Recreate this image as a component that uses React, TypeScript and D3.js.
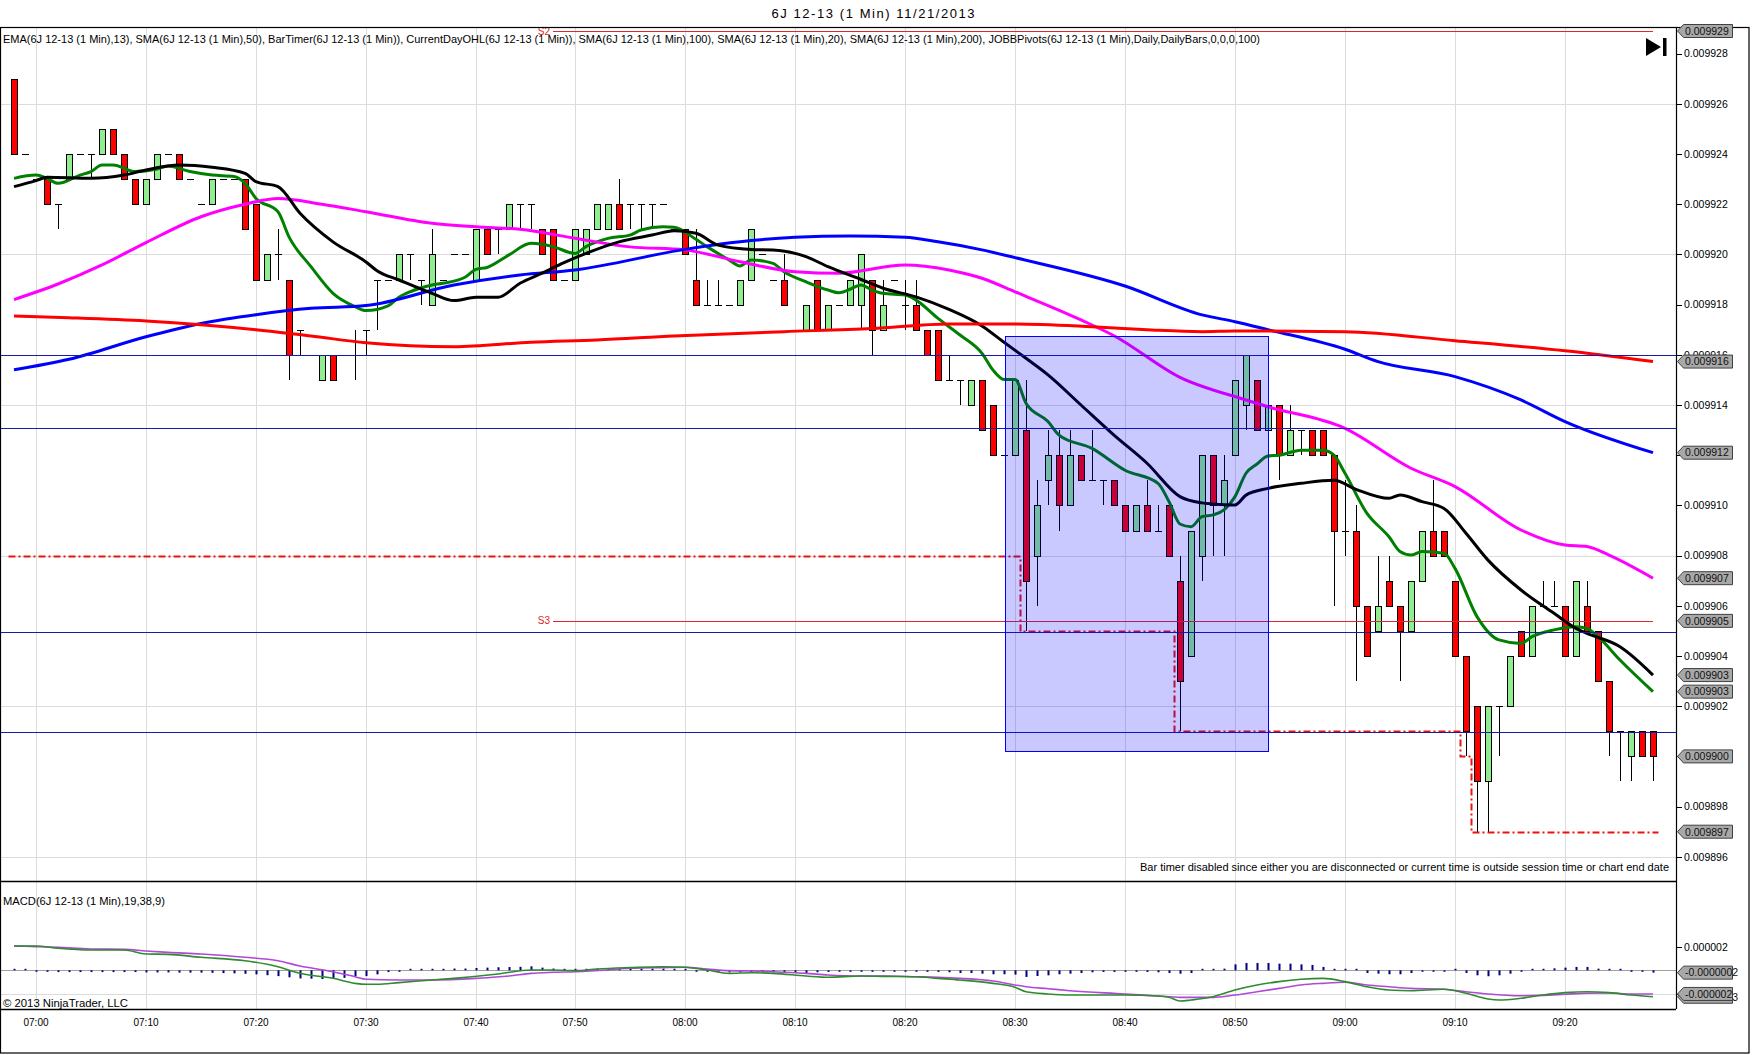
import React from "react";
import * as d3 from "d3";

// ---------- DATA (prices in ticks of 0.000001) ----------
const opens = [
  9927, 9924, 9923, 9923, 9922, 9923, 9924, 9924, 9924, 9925,
  9924, 9923, 9922, 9923, 9924, 9924, 9923, 9922, 9922, 9923,
  9923, 9923, 9922, 9919, 9920, 9919, 9917, 9916, 9915, 9916,
  9916, 9916, 9917, 9919, 9919, 9919, 9920, 9919, 9918, 9919,
  9920, 9920, 9919, 9921, 9921, 9921, 9922, 9922, 9921, 9921,
  9919, 9919, 9920, 9921, 9921, 9922, 9922, 9922, 9922, 9922,
  9921, 9921, 9919, 9918, 9918, 9918, 9918, 9919, 9920, 9919,
  9919, 9917, 9917, 9919, 9917, 9918, 9918, 9918, 9919, 9917,
  9919, 9918, 9918, 9917, 9917, 9915, 9915, 9914, 9915, 9914,
  9912, 9912, 9913, 9908, 9911, 9912, 9910, 9912, 9911, 9911,
  9911, 9910, 9909, 9910, 9909, 9910, 9907, 9904, 9908, 9912,
  9910, 9912, 9914, 9915, 9913, 9914, 9912, 9913, 9913, 9913,
  9912, 9909, 9909, 9906, 9905, 9907, 9906, 9905, 9907, 9909,
  9909, 9907, 9904, 9902, 9899, 9902, 9902, 9905, 9904, 9906,
  9906, 9906, 9904, 9906, 9905, 9903, 9901, 9900, 9901, 9901,
];
const highs = [
  9927, 9924, 9923, 9923, 9922, 9924, 9924, 9924, 9925, 9925,
  9924, 9923, 9923, 9924, 9924, 9924, 9923, 9922, 9923, 9923,
  9923, 9923, 9922, 9920, 9921, 9919, 9917, 9916, 9916, 9916,
  9916, 9917, 9917, 9919, 9919, 9920, 9920, 9919, 9921, 9919,
  9920, 9920, 9921, 9921, 9921, 9922, 9922, 9922, 9921, 9921,
  9919, 9921, 9921, 9922, 9922, 9923, 9922, 9922, 9922, 9922,
  9921, 9921, 9921, 9919, 9919, 9918, 9919, 9921, 9920, 9919,
  9920, 9917, 9918, 9919, 9918, 9918, 9919, 9920, 9919, 9919,
  9919, 9919, 9919, 9917, 9917, 9916, 9915, 9915, 9915, 9914,
  9912, 9915, 9915, 9911, 9913, 9913, 9913, 9912, 9913, 9911,
  9911, 9910, 9910, 9911, 9910, 9910, 9908, 9909, 9912, 9912,
  9912, 9915, 9916, 9915, 9914, 9914, 9914, 9913, 9913, 9913,
  9912, 9911, 9910, 9906, 9908, 9908, 9906, 9907, 9909, 9911,
  9909, 9907, 9904, 9902, 9902, 9902, 9904, 9905, 9906, 9907,
  9907, 9906, 9907, 9907, 9905, 9903, 9901, 9901, 9901, 9901,
];
const lows = [
  9924, 9924, 9923, 9922, 9921, 9923, 9924, 9923, 9924, 9924,
  9923, 9922, 9922, 9923, 9924, 9923, 9923, 9922, 9922, 9923,
  9923, 9921, 9919, 9919, 9919, 9915, 9916, 9916, 9915, 9915,
  9916, 9915, 9916, 9917, 9919, 9919, 9919, 9918, 9918, 9919,
  9920, 9920, 9919, 9920, 9920, 9921, 9921, 9921, 9920, 9919,
  9919, 9919, 9920, 9921, 9921, 9921, 9921, 9921, 9921, 9922,
  9921, 9920, 9918, 9918, 9918, 9918, 9918, 9919, 9920, 9919,
  9918, 9917, 9917, 9917, 9917, 9918, 9918, 9917, 9916, 9917,
  9919, 9917, 9917, 9916, 9915, 9915, 9914, 9914, 9913, 9912,
  9912, 9912, 9905, 9906, 9910, 9909, 9910, 9911, 9911, 9910,
  9910, 9909, 9909, 9909, 9909, 9908, 9901, 9904, 9907, 9908,
  9908, 9912, 9913, 9913, 9913, 9911, 9912, 9912, 9912, 9912,
  9906, 9908, 9903, 9904, 9905, 9906, 9903, 9905, 9907, 9908,
  9908, 9904, 9900, 9897, 9897, 9900, 9902, 9904, 9904, 9906,
  9906, 9904, 9904, 9905, 9903, 9900, 9899, 9899, 9900, 9899,
];
const closes = [
  9924, 9924, 9923, 9922, 9922, 9924, 9924, 9924, 9925, 9924,
  9923, 9922, 9923, 9924, 9924, 9923, 9923, 9922, 9923, 9923,
  9923, 9921, 9919, 9920, 9920, 9916, 9917, 9916, 9916, 9915,
  9916, 9916, 9917, 9919, 9919, 9920, 9920, 9919, 9920, 9919,
  9920, 9920, 9921, 9920, 9921, 9922, 9922, 9922, 9920, 9919,
  9919, 9921, 9921, 9922, 9922, 9921, 9922, 9922, 9922, 9922,
  9921, 9920, 9918, 9918, 9918, 9918, 9919, 9921, 9920, 9919,
  9918, 9917, 9918, 9917, 9918, 9918, 9919, 9920, 9917, 9918,
  9919, 9918, 9917, 9916, 9915, 9915, 9915, 9915, 9913, 9912,
  9912, 9915, 9907, 9910, 9912, 9910, 9912, 9911, 9911, 9911,
  9910, 9909, 9910, 9909, 9909, 9908, 9903, 9909, 9912, 9910,
  9911, 9915, 9916, 9913, 9914, 9912, 9913, 9913, 9912, 9912,
  9909, 9909, 9906, 9904, 9906, 9906, 9905, 9907, 9909, 9908,
  9908, 9904, 9901, 9899, 9902, 9902, 9904, 9904, 9906, 9906,
  9906, 9904, 9907, 9905, 9903, 9901, 9901, 9901, 9900, 9900,
];

const timeLabels = ["07:00", "07:10", "07:20", "07:30", "07:40", "07:50", "08:00", "08:10", "08:20", "08:30", "08:40", "08:50", "09:00", "09:10", "09:20"];
const timeLabelBars = [2, 12, 22, 32, 42, 51, 61, 71, 81, 91, 101, 111, 121, 131, 141];

// EMA(13) – green
const emaBars = [0, 2, 3, 4, 6, 7, 8, 9, 11, 13, 14, 16, 18, 20, 21, 22, 24, 25, 27, 29, 31, 32, 34, 35, 36, 38, 39, 41, 42, 43, 45, 47, 49, 51, 52, 54, 56, 57, 59, 60, 62, 63, 65, 66, 67, 69, 70, 72, 74, 75, 76, 77, 78, 79, 81, 82, 84, 86, 88, 89, 90, 91, 92, 94, 95, 98, 101, 104, 105, 106, 107, 108, 109, 110, 111, 112, 113, 114, 115, 117, 119, 120, 121, 123, 125, 126, 127, 128, 130, 131, 133, 135, 137, 138, 140, 142, 143, 144, 146, 149];
const emaVals = [9923.03, 9923.16, 9923.03, 9922.83, 9923.16, 9923.3, 9923.56, 9923.56, 9923.3, 9923.4, 9923.52, 9923.3, 9923.16, 9923.1, 9922.83, 9922.23, 9921.7, 9920.7, 9919.51, 9918.45, 9917.92, 9917.76, 9917.95, 9918.29, 9918.51, 9918.78, 9918.85, 9919.09, 9919.4, 9919.48, 9919.98, 9920.44, 9920.31, 9920.04, 9920.31, 9920.64, 9920.77, 9920.97, 9921.1, 9921.08, 9920.6, 9920.31, 9919.78, 9919.54, 9919.78, 9919.64, 9919.31, 9918.91, 9918.58, 9918.47, 9918.61, 9918.78, 9918.58, 9918.45, 9918.38, 9918.18, 9917.45, 9916.79, 9916.06, 9915.39, 9915.02, 9915.02, 9914.07, 9913.34, 9912.8, 9912.27, 9911.4, 9910.88, 9910.15, 9909.26, 9909.15, 9909.55, 9909.62, 9909.82, 9910.35, 9911.28, 9911.65, 9911.97, 9912.0, 9912.2, 9912.2, 9912.0, 9911.28, 9909.68, 9908.75, 9908.16, 9908.02, 9908.16, 9908.09, 9907.49, 9905.57, 9904.64, 9904.5, 9904.77, 9905.04, 9905.17, 9905.1, 9904.77, 9903.84, 9902.58];

// SMA(20) – black
const sma20Bars = [0, 2, 3, 7, 10, 12, 15, 18, 21, 22, 24, 26, 29, 32, 33, 35, 38, 40, 42, 44, 46, 48, 50, 52, 55, 58, 60, 62, 64, 67, 69, 72, 74, 77, 79, 82, 85, 88, 90, 92, 94, 97, 100, 103, 106, 108, 109, 111, 112, 114, 117, 120, 122, 125, 126, 128, 130, 132, 134, 137, 140, 142, 143, 146, 149];
const sma20Vals = [9922.7, 9922.94, 9923.07, 9923.03, 9923.16, 9923.36, 9923.56, 9923.47, 9923.23, 9922.9, 9922.7, 9921.64, 9920.5, 9919.7, 9919.35, 9918.98, 9918.45, 9918.16, 9918.29, 9918.29, 9918.85, 9919.25, 9919.67, 9920.04, 9920.5, 9920.77, 9920.94, 9920.84, 9920.37, 9920.2, 9920.18, 9919.91, 9919.51, 9919.0, 9918.65, 9918.31, 9917.81, 9917.15, 9916.5, 9915.86, 9915.2, 9914.0, 9912.8, 9911.68, 9910.35, 9910.1, 9910.06, 9910.02, 9910.41, 9910.68, 9910.88, 9911.0, 9910.64, 9910.28, 9910.41, 9910.15, 9909.88, 9908.89, 9907.82, 9906.63, 9905.7, 9905.1, 9904.9, 9904.37, 9903.24];

// SMA(50) – magenta
const sma50Bars = [0, 4, 8, 12, 17, 21, 24, 28, 32, 38, 42, 46, 51, 56, 61, 66, 71, 75, 81, 85, 88, 91, 97, 100, 106, 112, 114, 121, 127, 131, 137, 141, 143, 145, 149];
const sma50Vals = [9918.2, 9918.82, 9919.58, 9920.47, 9921.5, 9922.0, 9922.23, 9922.0, 9921.7, 9921.24, 9921.1, 9921.0, 9920.64, 9920.3, 9920.18, 9919.71, 9919.31, 9919.25, 9919.58, 9919.38, 9919.05, 9918.51, 9917.39, 9916.76, 9915.1, 9914.2, 9913.93, 9913.07, 9911.48, 9910.75, 9909.02, 9908.42, 9908.36, 9908.02, 9907.1];

// SMA(100) – blue
const sma100Bars = [0, 5, 12, 17, 22, 27, 32, 40, 46, 51, 61, 67, 71, 76, 81, 84, 88, 91, 101, 108, 111, 114, 121, 124, 131, 137, 141, 149];
const sma100Vals = [9915.4, 9915.82, 9916.72, 9917.25, 9917.6, 9917.85, 9917.96, 9918.78, 9919.18, 9919.38, 9920.2, 9920.55, 9920.68, 9920.73, 9920.68, 9920.5, 9920.18, 9919.87, 9918.74, 9917.59, 9917.32, 9917.0, 9916.22, 9915.73, 9915.13, 9914.2, 9913.34, 9912.1];

// SMA(200) – red
const sma200Bars = [0, 5, 12, 17, 22, 27, 32, 40, 47, 53, 60, 70, 78, 85, 91, 98, 103, 108, 111, 121, 131, 141, 149];
const sma200Vals = [9917.55, 9917.48, 9917.35, 9917.2, 9917.0, 9916.75, 9916.48, 9916.32, 9916.5, 9916.59, 9916.75, 9916.92, 9917.05, 9917.23, 9917.23, 9917.12, 9917.0, 9916.92, 9916.95, 9916.92, 9916.56, 9916.16, 9915.73];

// Horizontal drawn lines (navy)
const drawnLevels = [9916.0, 9913.07, 9904.95, 9900.96];

// JOBB pivots
const pivotNames = ["S2", "S3"];
const pivotVals = [9928.9, 9905.4];
const pivotFromBar = 49;

// Current day low (step)
const dayLowBars = [-0.5, 91.5, 105.5, 131.5, 132.5, 149.5];
const dayLowVals = [9908, 9905, 9901, 9900, 9897, 9897];

// Highlight rectangle
const boxBars = [90.1, 114.0];
const boxPrices = [9916.76, 9900.23];

// MACD (units of 0.0000001)
const macdBars = [0, 2, 4, 7, 10, 12, 14, 17, 21, 24, 26, 29, 31, 32, 33, 35, 38, 40, 44, 47, 49, 51, 53, 56, 59, 61, 63, 65, 67, 69, 72, 74, 77, 79, 82, 84, 86, 89, 91, 92, 94, 96, 101, 104, 105, 106, 107, 109, 111, 113, 115, 117, 119, 121, 123, 125, 127, 130, 132, 134, 135, 137, 139, 141, 143, 145, 147, 149];
const macdVals = [20.9, 20.9, 18.9, 17.4, 17.4, 14.0, 13.7, 11.2, 8.2, 3.1, -2.6, -6.9, -11.2, -12.0, -12.0, -10.6, -8.3, -6.9, -3.2, 0.3, 0.3, -0.3, 1.1, 2.3, 3.1, 2.6, 0.3, -2.6, -2.1, -2.6, -4.9, -6.0, -4.9, -5.2, -5.5, -6.9, -8.3, -11.2, -14.6, -18.4, -20.3, -21.2, -21.2, -22.1, -23.2, -26.4, -25.5, -22.7, -16.9, -12.6, -9.7, -7.7, -6.9, -9.7, -14.1, -16.9, -17.5, -16.3, -19.7, -24.6, -25.5, -24.0, -21.2, -19.2, -18.4, -19.2, -21.2, -22.7];
const signalBars = [0, 2, 4, 7, 10, 12, 14, 17, 21, 24, 26, 29, 31, 32, 35, 38, 42, 45, 47, 49, 51, 54, 56, 59, 61, 63, 65, 67, 69, 72, 74, 77, 79, 82, 84, 86, 89, 91, 92, 94, 96, 101, 104, 106, 109, 111, 113, 115, 117, 119, 121, 123, 125, 127, 130, 132, 134, 137, 139, 141, 143, 145, 147, 149];
const signalVals = [20.9, 20.3, 19.7, 18.3, 18.0, 16.6, 15.4, 14.0, 11.2, 8.2, 3.7, -1.2, -5.5, -7.7, -8.3, -8.3, -6.9, -4.9, -2.6, -1.7, -1.2, 0.3, 1.7, 2.3, 2.6, 1.1, -0.3, -0.6, -1.2, -2.6, -4.0, -4.9, -4.9, -5.5, -6.0, -6.9, -9.2, -12.6, -14.1, -15.8, -17.5, -20.3, -22.1, -23.2, -23.2, -21.2, -18.4, -15.5, -12.6, -11.2, -10.3, -12.6, -14.1, -15.5, -16.3, -18.4, -20.3, -21.8, -21.5, -20.6, -19.7, -19.5, -20.3, -20.3];
const histVals = [
  0, 0, -0.5, -1, -1.5, -1.5, -1.5, -1.5, -1.5, -1.5,
  -1.5, -1.5, -1.8, -1.8, -1.8, -2, -2, -2, -2.2, -2.4,
  -2.6, -3, -3.5, -4.2, -5, -6, -7, -7.2, -7.5, -7.2,
  -6.5, -5.2, -5, -3.5, -1.5, -0.5, 0, 0, 0.5, 1,
  1.5, 1.5, 2, 2.3, 2.6, 2.8, 3, 3.4, 2.3, 1.5,
  0.8, 0.5, 0.8, 0.8, 1.4, 1.4, 1.4, 1.4, 1.4, 1.4,
  0.8, 0.5, -0.5, -0.8, -1.4, -1.7, -1.7, -1.7, -1.7, -1.7,
  -1.7, -1.7, -2.3, -1.7, -1.4, -1.1, -0.8, -0.6, -0.6, -0.5,
  -0.5, -0.5, -0.6, -1.1, -1.4, -1.7, -2.3, -2.3, -2.9, -3.4,
  -3.4, -3.7, -5.7, -4.9, -4.3, -3.4, -2.9, -2.3, -1.7, -1.4,
  -1.4, -1.1, -1.1, -1.4, -1.7, -2.3, -2.9, -2.3, 0, 0.9,
  1.4, 5.1, 6.3, 6.3, 6.3, 5.7, 5.7, 5.1, 4.6, 2.9,
  0.9, 0.3, 0, -2.3, -2.9, -3.4, -3.4, -2.3, -0.9, -0.6,
  -0.3, 0, -2.3, -4.3, -5.1, -4.3, -2.9, -0.9, 0.6, 1.1,
  1.7, 2.3, 2.9, 2.9, 1.4, 0, 0, -0.6, -0.9, -2,
];

const titleText = "6J 12-13 (1 Min)  11/21/2013";
const legendText = "EMA(6J 12-13 (1 Min),13), SMA(6J 12-13 (1 Min),50), BarTimer(6J 12-13 (1 Min)), CurrentDayOHL(6J 12-13 (1 Min)), SMA(6J 12-13 (1 Min),100), SMA(6J 12-13 (1 Min),20), SMA(6J 12-13 (1 Min),200), JOBBPivots(6J 12-13 (1 Min),Daily,DailyBars,0,0,0,100)";
const macdTitle = "MACD(6J 12-13 (1 Min),19,38,9)";
const barTimerText = "Bar timer disabled since either you are disconnected or current time is outside session time or chart end date";
const copyrightText = "\u00A9 2013 NinjaTrader, LLC";

// ---------- LAYOUT ----------
const W = 1752, H = 1055;
const AXIS_X = 1676;
const MAIN_TOP = 27, MAIN_BOTTOM = 881, MACD_BOTTOM = 1009;
const FRAME_RIGHT = 1749, FRAME_BOTTOM = 1053;
const FONT = "'Liberation Sans', Arial, sans-serif";

const fmtPrice = (u: number) => (u / 1e6).toFixed(6);

function ValueBox({ y, text }: { y: number; text: string }) {
  const x0 = AXIS_X + 1.5;
  const h = 6.5;
  const p = `M${x0},${y} L${x0 + 6},${y - h} L${x0 + 55},${y - h} L${x0 + 55},${y + h} L${x0 + 6},${y + h} Z`;
  return (
    <g>
      <path d={p} fill="#a8a8a8" stroke="#404040" strokeWidth={1} />
      <text x={x0 + 7.5} y={y + 3.8} fontSize={10.5} fill="#111" fontFamily={FONT}>{text}</text>
    </g>
  );
}

export default function App() {
  const xs = d3.scaleLinear().domain([0, 149]).range([14, 1653]);
  const ys = d3.scaleLinear().domain([9896, 9928]).range([856.8, 53.6]);
  const ms = d3.scaleLinear().domain([-20, 20]).range([993.6, 947]);

  const lineGen = d3.line<[number, number]>().x((d) => xs(d[0])).y((d) => ys(d[1])).curve(d3.curveMonotoneX);
  const macdGen = d3.line<[number, number]>().x((d) => xs(d[0])).y((d) => ms(d[1])).curve(d3.curveMonotoneX);
  const stepGen = d3.line<[number, number]>().x((d) => xs(d[0])).y((d) => Math.round(ys(d[1])) + 0.5).curve(d3.curveStepAfter);

  const priceTicks = d3.range(9896, 9929, 2);
  const priceGrid = d3.range(9896, 9929, 6);

  const series = [
    { bars: emaBars, vals: emaVals, color: "#008000" },
    { bars: sma50Bars, vals: sma50Vals, color: "#FF00FF" },
    { bars: sma100Bars, vals: sma100Vals, color: "#0000FF" },
    { bars: sma20Bars, vals: sma20Vals, color: "#000000" },
    { bars: sma200Bars, vals: sma200Vals, color: "#FF0000" },
  ];

  const crisp = (v: number) => Math.round(v) + 0.5;

  const mainBoxes = [
    { v: pivotVals[0] },
    { v: sma200Vals[sma200Vals.length - 1] },
    { v: sma100Vals[sma100Vals.length - 1] },
    { v: sma50Vals[sma50Vals.length - 1] },
    { v: pivotVals[1] },
    { v: sma20Vals[sma20Vals.length - 1] },
    { v: emaVals[emaVals.length - 1] },
    { v: closes[closes.length - 1] },
    { v: dayLowVals[dayLowVals.length - 1] },
  ];

  return (
    <svg width={W} height={H} style={{ position: "absolute", left: 0, top: 0, background: "#fff" }} fontFamily={FONT}>
      <defs>
        <clipPath id="mainClip"><rect x={1} y={MAIN_TOP} width={AXIS_X - 1} height={MAIN_BOTTOM - MAIN_TOP} /></clipPath>
        <clipPath id="macdClip"><rect x={1} y={MAIN_BOTTOM} width={AXIS_X - 1} height={MACD_BOTTOM - MAIN_BOTTOM} /></clipPath>
      </defs>
      <rect x={0} y={0} width={W} height={H} fill="#fff" />

      {/* Title */}
      <text x={873} y={17.5} fontSize={13} textAnchor="middle" fill="#000" textLength={203}>{titleText}</text>

      {/* ---------- MAIN PANEL ---------- */}
      <g clipPath="url(#mainClip)">
        {/* grid */}
        {priceGrid.map((p) => (
          <line key={"hg" + p} x1={1} x2={AXIS_X} y1={crisp(ys(p))} y2={crisp(ys(p))} stroke="#dcdcdc" />
        ))}
        {timeLabelBars.map((b) => (
          <line key={"vg" + b} x1={crisp(xs(b))} x2={crisp(xs(b))} y1={MAIN_TOP} y2={MAIN_BOTTOM} stroke="#dcdcdc" />
        ))}

        {/* candles */}
        {opens.map((o, i) => {
          const X = Math.round(xs(i));
          const h = highs[i], l = lows[i], c = closes[i];
          const yo = Math.round(ys(o)), yc = Math.round(ys(c));
          const yh = Math.round(ys(h)), yl = Math.round(ys(l));
          return (
            <g key={"c" + i}>
              {h !== l && <line x1={X + 0.5} x2={X + 0.5} y1={yh} y2={yl} stroke="#000" strokeWidth={1} />}
              {o === c ? (
                <line x1={X - 3} x2={X + 4} y1={yo + 0.5} y2={yo + 0.5} stroke="#000" strokeWidth={1} />
              ) : (
                <rect x={X - 2.5} y={Math.min(yo, yc) + 0.5} width={6} height={Math.abs(yc - yo)}
                  fill={c > o ? "#90EE90" : "#FF0000"} stroke="#000" strokeWidth={1} />
              )}
            </g>
          );
        })}

        {/* day low step line */}
        <path d={stepGen(d3.zip(dayLowBars, dayLowVals) as [number, number][]) || ""} fill="none" stroke="#ee1111" strokeWidth={2} strokeDasharray="7,3,2,3" />

        {/* pivots */}
        {pivotVals.map((v, k) => (
          <g key={"pv" + k}>
            <line x1={xs(pivotFromBar)} x2={xs(149)} y1={crisp(ys(v))} y2={crisp(ys(v))} stroke="#e02828" strokeWidth={1} />
            <text x={xs(pivotFromBar) - 3} y={ys(v) + 3.5} fontSize={10} textAnchor="end" fill="#e02828">{pivotNames[k]}</text>
          </g>
        ))}

        {/* moving averages */}
        {series.map((s, k) => (
          <path key={"s" + k} d={lineGen(d3.zip(s.bars, s.vals) as [number, number][]) || ""} fill="none" stroke={s.color} strokeWidth={3} strokeLinejoin="round" />
        ))}

        {/* drawn horizontal lines */}
        {drawnLevels.map((v, k) => (
          <line key={"dl" + k} x1={1} x2={AXIS_X} y1={crisp(ys(v))} y2={crisp(ys(v))} stroke="#1a1aa8" strokeWidth={1} />
        ))}

        {/* highlight rectangle */}
        <rect x={crisp(xs(boxBars[0]))} y={crisp(ys(boxPrices[0]))}
          width={Math.round(xs(boxBars[1]) - xs(boxBars[0]))} height={Math.round(ys(boxPrices[1]) - ys(boxPrices[0]))}
          fill="#0000ff" fillOpacity={0.21} stroke="#0000ff" strokeWidth={1} />

        {/* legend */}
        <text x={3} y={43} fontSize={10.5} fill="#000" textLength={1257} lengthAdjust="spacingAndGlyphs">{legendText}</text>
        {/* bar timer note */}
        <text x={1140} y={870.5} fontSize={10} fill="#000" textLength={529} lengthAdjust="spacingAndGlyphs">{barTimerText}</text>
        {/* go-to-end icon */}
        <path d="M1646,38 L1646,56 L1661,47 Z" fill="#000" />
        <rect x={1663} y={38} width={3.5} height={18} fill="#000" />
      </g>

      {/* ---------- MACD PANEL ---------- */}
      <g clipPath="url(#macdClip)">
        {timeLabelBars.map((b) => (
          <line key={"mvg" + b} x1={crisp(xs(b))} x2={crisp(xs(b))} y1={MAIN_BOTTOM} y2={MACD_BOTTOM} stroke="#dcdcdc" />
        ))}
        <line x1={1} x2={AXIS_X} y1={crisp(ms(-20))} y2={crisp(ms(-20))} stroke="#dcdcdc" />
        <line x1={1} x2={AXIS_X} y1={crisp(ms(0))} y2={crisp(ms(0))} stroke="#a0a0a0" />
        {histVals.map((v, i) => {
          const y0 = ms(0);
          const y1 = ms(v);
          const top = Math.min(y0, y1), hgt = Math.max(1.5, Math.abs(y1 - y0));
          return <rect key={"h" + i} x={Math.round(xs(i)) - 0.5} y={v >= 0 ? y0 - hgt : y0} width={2} height={hgt} fill="#000080" data-top={top} />;
        })}
        <path d={macdGen(d3.zip(signalBars, signalVals) as [number, number][]) || ""} fill="none" stroke="#b048d8" strokeWidth={1.6} />
        <path d={macdGen(d3.zip(macdBars, macdVals) as [number, number][]) || ""} fill="none" stroke="#2e8b2e" strokeWidth={1.6} />
        <text x={3} y={904.5} fontSize={10} fill="#000" textLength={162} lengthAdjust="spacingAndGlyphs">{macdTitle}</text>
        <text x={3} y={1007} fontSize={10} fill="#000" textLength={125} lengthAdjust="spacingAndGlyphs">{copyrightText}</text>
      </g>

      {/* ---------- FRAMES ---------- */}
      <rect x={0.5} y={MAIN_TOP + 0.5} width={FRAME_RIGHT - 0.5} height={FRAME_BOTTOM - MAIN_TOP - 0.5} fill="none" stroke="#000" strokeWidth={1.2} />
      <line x1={0} x2={AXIS_X} y1={MAIN_BOTTOM + 0.5} y2={MAIN_BOTTOM + 0.5} stroke="#000" strokeWidth={1.5} />
      <line x1={0} x2={AXIS_X} y1={MACD_BOTTOM + 0.5} y2={MACD_BOTTOM + 0.5} stroke="#000" strokeWidth={1.5} />
      <line x1={AXIS_X + 0.5} x2={AXIS_X + 0.5} y1={MAIN_TOP} y2={MACD_BOTTOM} stroke="#000" strokeWidth={1.2} />

      {/* price axis */}
      {priceTicks.map((p) => (
        <g key={"pt" + p}>
          <line x1={AXIS_X} x2={AXIS_X + 6} y1={crisp(ys(p))} y2={crisp(ys(p))} stroke="#000" />
          <text x={AXIS_X + 8} y={ys(p) + 3.8} fontSize={10.5} fill="#000">{fmtPrice(p)}</text>
        </g>
      ))}
      {mainBoxes.map((b, k) => (
        <ValueBox key={"vb" + k} y={ys(b.v)} text={fmtPrice(b.v)} />
      ))}

      {/* MACD axis */}
      {[20, -20].map((v) => (
        <g key={"mt" + v}>
          <line x1={AXIS_X} x2={AXIS_X + 6} y1={crisp(ms(v))} y2={crisp(ms(v))} stroke="#000" />
          <text x={AXIS_X + 8} y={ms(v) + 3.8} fontSize={10.5} fill="#000">{(v / 1e7).toFixed(6)}</text>
        </g>
      ))}
      <ValueBox y={ms(histVals[histVals.length - 1])} text={(histVals[histVals.length - 1] / 1e7).toFixed(7)} />
      <ValueBox y={ms(macdVals[macdVals.length - 1])} text={(macdVals[macdVals.length - 1] / 1e7).toFixed(7)} />
      <ValueBox y={ms(signalVals[signalVals.length - 1])} text={(signalVals[signalVals.length - 1] / 1e7).toFixed(6)} />

      {/* time axis */}
      {timeLabelBars.map((b, k) => (
        <text key={"tl" + k} x={xs(b)} y={1026} fontSize={10} textAnchor="middle" fill="#000">{timeLabels[k]}</text>
      ))}
    </svg>
  );
}
